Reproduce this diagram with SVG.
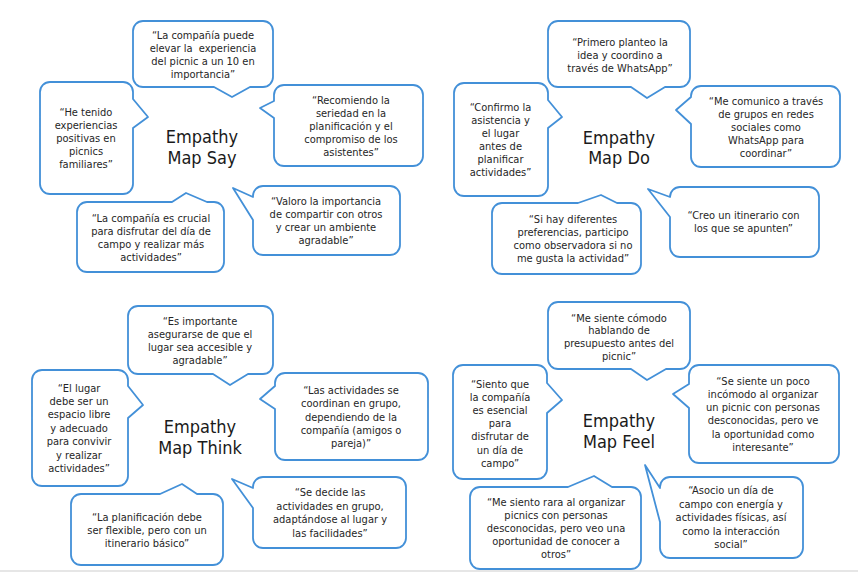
<svg xmlns="http://www.w3.org/2000/svg" width="858" height="572" viewBox="0 0 858 572">
<style>
.b{fill:#fff;stroke:#4390d8;stroke-width:1.8;stroke-linejoin:round}
.t{font-family:"DejaVu Sans Condensed","DejaVu Sans",sans-serif;font-stretch:condensed;font-size:11px;fill:#262626;text-anchor:middle}
.h{font-family:"DejaVu Sans Condensed","DejaVu Sans",sans-serif;font-stretch:condensed;font-size:18px;fill:#1a1a1a;text-anchor:middle}
</style>
<rect x="0" y="0" width="858" height="572" fill="#fff"/>
<rect x="0" y="570" width="858" height="2" fill="#e6e6e6"/>

<!-- SAY -->
<g id="say-title"><text class="h" x="202" y="143">Empathy</text><text class="h" x="202" y="164">Map Say</text></g>
<g id="say-1"><path class="b" d="M143,21 H263 A10,10 0 0 1 273,31 V77 A10,10 0 0 1 263,87 H250 L232,97 L214,87 H143 A10,10 0 0 1 133,77 V31 A10,10 0 0 1 143,21 Z"/>
<text class="t" x="203" y="39">“La compañía puede</text><text class="t" x="203" y="52" xml:space="preserve" style="white-space:pre">elevar la  experiencia</text><text class="t" x="203" y="65">del picnic a un 10 en</text><text class="t" x="203" y="78">importancia”</text></g>
<g id="say-2"><path class="b" d="M50,82 H123 A10,10 0 0 1 133,92 V99 L148,117 L133,128 V184 A10,10 0 0 1 123,194 H50 A10,10 0 0 1 40,184 V92 A10,10 0 0 1 50,82 Z"/>
<text class="t" x="86" y="116">“He tenido</text><text class="t" x="86" y="129">experiencias</text><text class="t" x="86" y="142">positivas en</text><text class="t" x="86" y="155">picnics</text><text class="t" x="86" y="168">familiares”</text></g>
<g id="say-3"><path class="b" d="M284,85 H413 A10,10 0 0 1 423,95 V156 A10,10 0 0 1 413,166 H284 A10,10 0 0 1 274,156 V118 L260,108 L274,101 V95 A10,10 0 0 1 284,85 Z"/>
<text class="t" x="351" y="104">“Recomiendo la</text><text class="t" x="351" y="117">seriedad en la</text><text class="t" x="351" y="130">planificación y el</text><text class="t" x="351" y="143">compromiso de los</text><text class="t" x="351" y="156">asistentes”</text></g>
<g id="say-4"><path class="b" d="M87,202 H172 L186,193 L207,202 H214 A10,10 0 0 1 224,212 V262 A10,10 0 0 1 214,272 H87 A10,10 0 0 1 77,262 V212 A10,10 0 0 1 87,202 Z"/>
<text class="t" x="151" y="222">“La compañía es crucial</text><text class="t" x="151" y="235">para disfrutar del día de</text><text class="t" x="151" y="248">campo y realizar más</text><text class="t" x="151" y="261">actividades”</text></g>
<g id="say-5"><path class="b" d="M263,186 H390 A10,10 0 0 1 400,196 V245 A10,10 0 0 1 390,255 H263 A10,10 0 0 1 253,245 V220 L233,188 L253,197 V196 A10,10 0 0 1 263,186 Z"/>
<text class="t" x="326" y="205">“Valoro la importancia</text><text class="t" x="326" y="218">de compartir con otros</text><text class="t" x="326" y="231">y crear un ambiente</text><text class="t" x="326" y="244">agradable”</text></g>

<!-- DO -->
<g id="do-title"><text class="h" x="619" y="144">Empathy</text><text class="h" x="619" y="164">Map Do</text></g>
<g id="do-1"><path class="b" d="M558,21 H680 A10,10 0 0 1 690,31 V77 A10,10 0 0 1 680,87 H665 L647,98 L631,87 H558 A10,10 0 0 1 548,77 V31 A10,10 0 0 1 558,21 Z"/>
<text class="t" x="620" y="45.5">“Primero planteo la</text><text class="t" x="620" y="58.5">idea y coordino a</text><text class="t" x="620" y="71.5">través de WhatsApp”</text></g>
<g id="do-2"><path class="b" d="M464,83 H538 A10,10 0 0 1 548,93 V100 L562,117 L548,128 V186 A10,10 0 0 1 538,196 H464 A10,10 0 0 1 454,186 V93 A10,10 0 0 1 464,83 Z"/>
<text class="t" x="500.5" y="111">“Confirmo la</text><text class="t" x="500.5" y="124">asistencia y</text><text class="t" x="500.5" y="137">el lugar</text><text class="t" x="500.5" y="150">antes de</text><text class="t" x="500.5" y="163">planificar</text><text class="t" x="500.5" y="176">actividades”</text></g>
<g id="do-3"><path class="b" d="M701,86 H830 A10,10 0 0 1 840,96 V157 A10,10 0 0 1 830,167 H701 A10,10 0 0 1 691,157 V124 L676,110 L691,97 V96 A10,10 0 0 1 701,86 Z"/>
<text class="t" x="766" y="104.5">“Me comunico a través</text><text class="t" x="766" y="117.5">de grupos en redes</text><text class="t" x="766" y="130.5">sociales como</text><text class="t" x="766" y="143.5">WhatsApp para</text><text class="t" x="766" y="156.5">coordinar”</text></g>
<g id="do-4"><path class="b" d="M502,203 H578 L601,195 L617,203 H631 A10,10 0 0 1 641,213 V264 A10,10 0 0 1 631,274 H502 A10,10 0 0 1 492,264 V213 A10,10 0 0 1 502,203 Z"/>
<text class="t" x="573" y="222.5">“Si hay diferentes</text><text class="t" x="573" y="235.5">preferencias, participo</text><text class="t" x="573" y="248.5">como observadora si no</text><text class="t" x="573" y="261.5">me gusta la actividad”</text></g>
<g id="do-5"><path class="b" d="M680,187 H809 A10,10 0 0 1 819,197 V247 A10,10 0 0 1 809,257 H680 A10,10 0 0 1 670,247 V217 L648,189 L670,197 A10,10 0 0 1 680,187 Z"/>
<text class="t" x="743.5" y="219">“Creo un itinerario con</text><text class="t" x="743.5" y="232">los que se apunten”</text></g>

<!-- THINK -->
<g id="think-title"><text class="h" x="200" y="433">Empathy</text><text class="h" x="200" y="453.5">Map Think</text></g>
<g id="think-1"><path class="b" d="M138,306 H263 A10,10 0 0 1 273,316 V364 A10,10 0 0 1 263,374 H248 L230,385 L213,374 H138 A10,10 0 0 1 128,364 V316 A10,10 0 0 1 138,306 Z"/>
<text class="t" x="200" y="325">“Es importante</text><text class="t" x="200" y="338">asegurarse de que el</text><text class="t" x="200" y="351">lugar sea accesible y</text><text class="t" x="200" y="364">agradable”</text></g>
<g id="think-2"><path class="b" d="M42,370 H118 A10,10 0 0 1 128,380 V386 L143,405 L128,418 V476 A10,10 0 0 1 118,486 H42 A10,10 0 0 1 32,476 V380 A10,10 0 0 1 42,370 Z"/>
<text class="t" x="79" y="391.5">“El lugar</text><text class="t" x="79" y="404.9">debe ser un</text><text class="t" x="79" y="418.3">espacio libre</text><text class="t" x="79" y="431.7">y adecuado</text><text class="t" x="79" y="445.1">para convivir</text><text class="t" x="79" y="458.5">y realizar</text><text class="t" x="79" y="471.9">actividades”</text></g>
<g id="think-3"><path class="b" d="M285,373 H418 A10,10 0 0 1 428,383 V450 A10,10 0 0 1 418,460 H285 A10,10 0 0 1 275,450 V409 L260,399 L275,386 V383 A10,10 0 0 1 285,373 Z"/>
<text class="t" x="351" y="394">“Las actividades se</text><text class="t" x="351" y="407.3">coordinan en grupo,</text><text class="t" x="351" y="420.6">dependiendo de la</text><text class="t" x="351" y="433.9">compañía (amigos o</text><text class="t" x="351" y="447.2">pareja)”</text></g>
<g id="think-4"><path class="b" d="M81,494 H160 L182,484 L197,494 H213 A10,10 0 0 1 223,504 V555 A10,10 0 0 1 213,565 H81 A10,10 0 0 1 71,555 V504 A10,10 0 0 1 81,494 Z"/>
<text class="t" x="147" y="521">“La planificación debe</text><text class="t" x="147" y="534">ser flexible, pero con un</text><text class="t" x="147" y="547">itinerario básico”</text></g>
<g id="think-5"><path class="b" d="M263,477 H396 A10,10 0 0 1 406,487 V538 A10,10 0 0 1 396,548 H263 A10,10 0 0 1 253,538 V508 L232,479 L253,488 V487 A10,10 0 0 1 263,477 Z"/>
<text class="t" x="330" y="496">“Se decide las</text><text class="t" x="330" y="509.5">actividades en grupo,</text><text class="t" x="330" y="523">adaptándose al lugar y</text><text class="t" x="330" y="536.5">las facilidades”</text></g>

<!-- FEEL -->
<g id="feel-title"><text class="h" x="619" y="427">Empathy</text><text class="h" x="619" y="447.5">Map Feel</text></g>
<g id="feel-1"><path class="b" d="M558,302 H680 A10,10 0 0 1 690,312 V359 A10,10 0 0 1 680,369 H666 L647,380 L631,369 H558 A10,10 0 0 1 548,359 V312 A10,10 0 0 1 558,302 Z"/>
<text class="t" x="619" y="321.5">“Me siente cómodo</text><text class="t" x="619" y="334.4">hablando de</text><text class="t" x="619" y="347.3">presupuesto antes del</text><text class="t" x="619" y="360.2">picnic”</text></g>
<g id="feel-2"><path class="b" d="M463,365 H537 A10,10 0 0 1 547,375 V383 L562,400 L547,413 V469 A10,10 0 0 1 537,479 H463 A10,10 0 0 1 453,469 V375 A10,10 0 0 1 463,365 Z"/>
<text class="t" x="500" y="387.5">“Siento que</text><text class="t" x="500" y="400.7">la compañía</text><text class="t" x="500" y="413.9">es esencial</text><text class="t" x="500" y="427.1">para</text><text class="t" x="500" y="440.3">disfrutar de</text><text class="t" x="500" y="453.5">un día de</text><text class="t" x="500" y="466.7">campo”</text></g>
<g id="feel-3"><path class="b" d="M699,365 H829 A10,10 0 0 1 839,375 V453 A10,10 0 0 1 829,463 H699 A10,10 0 0 1 689,453 V408 L673,394 L689,384 V375 A10,10 0 0 1 699,365 Z"/>
<text class="t" x="763" y="384.5">“Se siente un poco</text><text class="t" x="763" y="397.8">incómodo al organizar</text><text class="t" x="763" y="411.1">un picnic con personas</text><text class="t" x="763" y="424.4">desconocidas, pero ve</text><text class="t" x="763" y="437.7">la oportunidad como</text><text class="t" x="763" y="451">interesante”</text></g>
<g id="feel-4"><path class="b" d="M480,487 H568 L594,476 L612,487 H631 A10,10 0 0 1 641,497 V559 A10,10 0 0 1 631,569 H480 A10,10 0 0 1 470,559 V497 A10,10 0 0 1 480,487 Z"/>
<text class="t" x="556" y="506">“Me siento rara al organizar</text><text class="t" x="556" y="519">picnics con personas</text><text class="t" x="556" y="532">desconocidas, pero veo una</text><text class="t" x="556" y="545">oportunidad de conocer a</text><text class="t" x="556" y="558">otros”</text></g>
<g id="feel-5"><path class="b" d="M670,477 H793 A10,10 0 0 1 803,487 V548 A10,10 0 0 1 793,558 H670 A10,10 0 0 1 660,548 V522 L645,465 L660,488 V487 A10,10 0 0 1 670,477 Z"/>
<text class="t" x="731" y="494">“Asocio un día de</text><text class="t" x="731" y="507.5">campo con energía y</text><text class="t" x="731" y="521">actividades físicas, así</text><text class="t" x="731" y="534.5">como la interacción</text><text class="t" x="731" y="548">social”</text></g>

<g id="connectors"></g>
</svg>
